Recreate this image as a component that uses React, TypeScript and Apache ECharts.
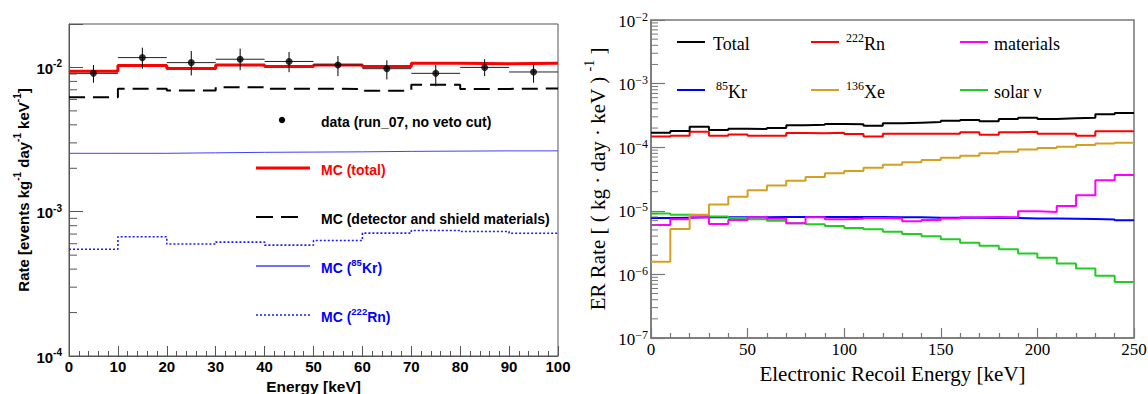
import React, { useEffect, useRef } from 'react';
import * as echarts from 'echarts';

// ---------- Left panel data (0-100 keV, 10 keV bins) ----------
const LEFT_EDGES = [0, 10, 20, 30, 40, 50, 60, 70, 80, 90, 100];
const LEFT_CENTERS = [5, 15, 25, 35, 45, 55, 65, 75, 85, 95];
const LEFT_X_TICKS = [0, 10, 20, 30, 40, 50, 60, 70, 80, 90, 100];
const dataRate = [9.1e-3, 1.17e-2, 1.08e-2, 1.14e-2, 1.1e-2, 1.04e-2, 9.8e-3, 9.1e-3, 1.0e-2, 9.3e-3];
const dataHi = [1.04e-2, 1.37e-2, 1.3e-2, 1.35e-2, 1.28e-2, 1.2e-2, 1.12e-2, 1.04e-2, 1.14e-2, 1.05e-2];
const dataLo = [7.83e-3, 9.8e-3, 8.8e-3, 9.57e-3, 9.27e-3, 8.7e-3, 8.26e-3, 7.4e-3, 8.7e-3, 7.83e-3];
const mcTotal = [9.4e-3, 1.03e-2, 9.84e-3, 1.04e-2, 1.016e-2, 1.04e-2, 1.015e-2, 1.07e-2, 1.06e-2, 1.07e-2];
const mcMaterials = [6.22e-3, 7.11e-3, 6.92e-3, 7.3e-3, 7.11e-3, 7.1e-3, 6.9e-3, 7.6e-3, 7.1e-3, 7.15e-3];
const mcKr = [2.54e-3, 2.54e-3, 2.56e-3, 2.58e-3, 2.59e-3, 2.6e-3, 2.62e-3, 2.63e-3, 2.64e-3, 2.64e-3];
const mcRn = [5.5e-4, 6.7e-4, 5.97e-4, 6.16e-4, 5.87e-4, 6.32e-4, 7.11e-4, 7.41e-4, 7.3e-4, 7.1e-4];

// ---------- Right panel data (0-250 keV, 10 keV bins) ----------
const RIGHT_EDGES = [0, 10, 20, 30, 40, 50, 60, 70, 80, 90, 100, 110, 120, 130, 140, 150, 160, 170, 180, 190, 200, 210, 220, 230, 240, 250];
const erTotal = [1.69e-4, 1.8e-4, 2.1e-4, 1.86e-4, 1.95e-4, 1.93e-4, 2.0e-4, 2.21e-4, 2.25e-4, 2.32e-4, 2.3e-4, 2.18e-4, 2.37e-4, 2.43e-4, 2.49e-4, 2.61e-4, 2.68e-4, 2.55e-4, 2.77e-4, 2.91e-4, 2.77e-4, 2.84e-4, 2.91e-4, 3.29e-4, 3.45e-4];
const erRn = [1.47e-4, 1.52e-4, 1.75e-4, 1.52e-4, 1.59e-4, 1.52e-4, 1.52e-4, 1.67e-4, 1.66e-4, 1.69e-4, 1.61e-4, 1.47e-4, 1.63e-4, 1.63e-4, 1.63e-4, 1.63e-4, 1.72e-4, 1.57e-4, 1.72e-4, 1.75e-4, 1.63e-4, 1.63e-4, 1.52e-4, 1.78e-4, 1.78e-4];
const erXe = [1.58e-6, 5.18e-6, 8.7e-6, 1.26e-5, 1.67e-5, 2.1e-5, 2.51e-5, 2.98e-5, 3.4e-5, 3.88e-5, 4.22e-5, 4.77e-5, 5.31e-5, 5.78e-5, 6.29e-5, 6.84e-5, 7.36e-5, 8.0e-5, 8.5e-5, 9.16e-5, 9.71e-5, 1.02e-4, 1.08e-4, 1.14e-4, 1.18e-4];
const erMaterials = [5.98e-6, 7.35e-6, 7.9e-6, 6.2e-6, 7.16e-6, 7.9e-6, 7.5e-6, 6.35e-6, 7.9e-6, 7.35e-6, 7.5e-6, 7.7e-6, 7.6e-6, 6.82e-6, 7.16e-6, 7.6e-6, 7.9e-6, 8.0e-6, 7.9e-6, 9.8e-6, 9.57e-6, 1.19e-5, 1.75e-5, 3.01e-5, 3.66e-5];
const erKr = [7.7e-6, 7.8e-6, 7.9e-6, 7.9e-6, 7.9e-6, 7.9e-6, 8.0e-6, 8.0e-6, 8.0e-6, 8.0e-6, 8.0e-6, 8.0e-6, 7.9e-6, 7.9e-6, 7.8e-6, 7.8e-6, 7.8e-6, 7.7e-6, 7.7e-6, 7.6e-6, 7.6e-6, 7.5e-6, 7.4e-6, 7.3e-6, 7.1e-6];
const erSolar = [9.1e-6, 8.7e-6, 8.5e-6, 8.1e-6, 7.7e-6, 7.35e-6, 7.0e-6, 6.35e-6, 6.12e-6, 5.77e-6, 5.37e-6, 5.12e-6, 4.7e-6, 4.32e-6, 3.98e-6, 3.56e-6, 3.15e-6, 2.83e-6, 2.48e-6, 2.14e-6, 1.83e-6, 1.49e-6, 1.24e-6, 9.55e-7, 7.58e-7];

// minor log ticks (mantissas 2..9 of each decade)
const MANTISSAS = [2, 3, 4, 5, 6, 7, 8, 9];
const LEFT_DECADES = [1e-4, 1e-3];
const RIGHT_DECADES = [1e-7, 1e-6, 1e-5, 1e-4, 1e-3];

const SANS = '"Liberation Sans", Arial, Helvetica, sans-serif';
const SERIF = '"Liberation Serif", "Times New Roman", serif';

const LEFT_AX = '#555555';
const RIGHT_AX = '#777777';

function histData(edges: number[], vals: number[]) {
  return edges.map((e, i) => [e, vals[Math.min(i, vals.length - 1)]]);
}

function stepLine(name: string, gi: number, edges: number[], vals: number[], lineStyle: any, z = 3) {
  return {
    type: 'line',
    name,
    xAxisIndex: gi,
    yAxisIndex: gi,
    data: histData(edges, vals),
    step: 'end',
    symbol: 'none',
    silent: true,
    lineStyle,
    z,
  };
}

function minorTicks(gi: number, decades: number[], len: number, color: string) {
  const vals: number[][] = [];
  decades.forEach((d) => MANTISSAS.forEach((m) => vals.push([0, m * d])));
  return {
    type: 'custom',
    xAxisIndex: gi,
    yAxisIndex: gi,
    silent: true,
    clip: false,
    z: 10,
    encode: { x: 0, y: 1 },
    data: vals,
    renderItem: (_p: any, api: any) => {
      const c = api.coord([api.value(0), api.value(1)]);
      return {
        type: 'line',
        shape: { x1: c[0], y1: c[1], x2: c[0] + len, y2: c[1] },
        style: { stroke: color, lineWidth: 1 },
      };
    },
  };
}

function powLabel(v: number, minus: string) {
  const e = Math.log10(v);
  const r = Math.round(e);
  if (Math.abs(e - r) > 1e-6) return '';
  return '{b|10}{s|' + (r < 0 ? minus : '') + Math.abs(r) + '}';
}

export default function App() {
  const ref = useRef<HTMLDivElement>(null);

  useEffect(() => {
    if (!ref.current) return;
    const chart = echarts.init(ref.current, undefined, { renderer: 'svg' });
    const halfBin = (LEFT_EDGES[1] - LEFT_EDGES[0]) / 2;

    const leftRich = {
      b: { fontFamily: SANS, fontWeight: 'bold', fontSize: 15, color: '#000', lineHeight: 17, verticalAlign: 'bottom' },
      s: { fontFamily: SANS, fontWeight: 'bold', fontSize: 10, color: '#000', lineHeight: 10, verticalAlign: 'top' },
    };
    const rightRich = {
      b: { fontFamily: SERIF, fontSize: 17, color: '#000', lineHeight: 19, verticalAlign: 'bottom' },
      s: { fontFamily: SERIF, fontSize: 12, color: '#000', lineHeight: 12, verticalAlign: 'top' },
    };

    const legendRowsL = [120, 168, 217, 266, 315];
    const lgL = (t: string, y: number, color: string) => ({
      type: 'text',
      silent: true,
      style: {
        x: 321,
        y,
        text: t,
        verticalAlign: 'middle',
        rich: {
          b: { fontFamily: SANS, fontWeight: 'bold', fontSize: 14, fill: color, lineHeight: 17, verticalAlign: 'bottom' },
          s: { fontFamily: SANS, fontWeight: 'bold', fontSize: 9.5, fill: color, lineHeight: 10, verticalAlign: 'top' },
        },
      },
    });
    const lgR = (t: string, x: number, y: number) => ({
      type: 'text',
      silent: true,
      style: {
        x,
        y,
        text: t,
        verticalAlign: 'middle',
        rich: {
          b: { fontFamily: SERIF, fontSize: 18, fill: '#000', lineHeight: 21, verticalAlign: 'bottom' },
          s: { fontFamily: SERIF, fontSize: 12, fill: '#000', lineHeight: 12, verticalAlign: 'top' },
        },
      },
    });
    const lgLine = (x1: number, x2: number, y: number, stroke: string, lineWidth: number, lineDash?: number[]) => ({
      type: 'line',
      silent: true,
      shape: { x1, y1: y, x2, y2: y },
      style: { stroke, lineWidth, lineDash },
    });

    const option: any = {
      animation: false,
      backgroundColor: '#ffffff',
      grid: [
        { left: 69, top: 24, width: 489, height: 332, show: true, borderColor: LEFT_AX, borderWidth: 1, backgroundColor: 'transparent', containLabel: false, outerBoundsMode: 'none' },
        { left: 651, top: 20, width: 483, height: 318, show: true, borderColor: RIGHT_AX, borderWidth: 1.5, backgroundColor: 'transparent', containLabel: false, outerBoundsMode: 'none' },
      ],
      xAxis: [
        {
          gridIndex: 0,
          type: 'value',
          min: LEFT_X_TICKS[0],
          max: LEFT_X_TICKS[LEFT_X_TICKS.length - 1],
          interval: 10,
          axisLine: { show: true, lineStyle: { color: LEFT_AX, width: 1 } },
          axisTick: { show: true, inside: true, length: 10, lineStyle: { color: LEFT_AX } },
          minorTick: { show: true, splitNumber: 5, length: 5, lineStyle: { color: LEFT_AX } },
          splitLine: { show: false },
          axisLabel: { fontFamily: SANS, fontWeight: 'bold', fontSize: 15, color: '#000', margin: 3 },
          name: 'Energy [keV]',
          nameLocation: 'middle',
          nameGap: 20,
          nameTextStyle: { fontFamily: SANS, fontWeight: 'bold', fontSize: 15.5, color: '#000', lineHeight: 16 },
        },
        {
          gridIndex: 1,
          type: 'value',
          min: 0,
          max: 250,
          interval: 50,
          axisLine: { show: true, lineStyle: { color: RIGHT_AX, width: 1.5 } },
          axisTick: { show: true, inside: true, length: 10, lineStyle: { color: RIGHT_AX, width: 1.2 } },
          minorTick: { show: true, splitNumber: 5, length: 5, lineStyle: { color: RIGHT_AX, width: 1.2 } },
          splitLine: { show: false },
          axisLabel: { fontFamily: SERIF, fontSize: 17, color: '#000', margin: 3 },
          name: 'Electronic Recoil Energy [keV]',
          nameLocation: 'middle',
          nameGap: 25,
          nameTextStyle: { fontFamily: SERIF, fontSize: 21, color: '#000', lineHeight: 21 },
        },
      ],
      yAxis: [
        {
          gridIndex: 0,
          type: 'log',
          logBase: 10,
          min: 1e-4,
          max: 0.02,
          axisLine: { show: true, lineStyle: { color: LEFT_AX, width: 1 } },
          axisTick: { show: true, inside: true, length: 14, lineStyle: { color: LEFT_AX } },
          splitLine: { show: false },
          axisLabel: { margin: 7, formatter: (v: number) => powLabel(v, '-'), rich: leftRich },
          name: '{b|Rate [events kg}{s|-1}{b| day}{s|-1}{b| keV}{s|-1}{b|]}',
          nameLocation: 'middle',
          nameGap: 38,
          nameTextStyle: {
            rich: {
              b: { fontFamily: SANS, fontWeight: 'bold', fontSize: 15, color: '#000', lineHeight: 19, verticalAlign: 'bottom' },
              s: { fontFamily: SANS, fontWeight: 'bold', fontSize: 10, color: '#000', lineHeight: 10, verticalAlign: 'top' },
            },
          },
        },
        {
          gridIndex: 1,
          type: 'log',
          logBase: 10,
          min: 1e-7,
          max: 1e-2,
          axisLine: { show: true, lineStyle: { color: RIGHT_AX, width: 1.5 } },
          axisTick: { show: true, inside: true, length: 14, lineStyle: { color: RIGHT_AX, width: 1.2 } },
          splitLine: { show: false },
          axisLabel: { margin: 3, formatter: (v: number) => powLabel(v, '−'), rich: rightRich },
          name: '{b|ER Rate [ ( kg · day · keV ) }{s|-1}{b| ]}',
          nameLocation: 'middle',
          nameGap: 43,
          nameTextStyle: {
            rich: {
              b: { fontFamily: SERIF, fontSize: 21, color: '#000', lineHeight: 26, verticalAlign: 'bottom' },
              s: { fontFamily: SERIF, fontSize: 14, color: '#000', lineHeight: 14, verticalAlign: 'top' },
            },
          },
        },
      ],
      series: [
        // left panel
        stepLine('MC (222Rn)', 0, LEFT_EDGES, mcRn, { color: '#1a1aff', width: 1.6, type: [2, 2] }),
        stepLine('MC (85Kr)', 0, LEFT_EDGES, mcKr, { color: '#4040ff', width: 1 }),
        stepLine('MC (detector and shield materials)', 0, LEFT_EDGES, mcMaterials, { color: '#000', width: 2, type: [16, 8] }),
        stepLine('MC (total)', 0, LEFT_EDGES, mcTotal, { color: '#ff0000', width: 3 }),
        {
          type: 'custom',
          name: 'data errors',
          xAxisIndex: 0,
          yAxisIndex: 0,
          silent: true,
          z: 5,
          encode: { x: 0, y: 1 },
          data: LEFT_CENTERS.map((c, i) => [c, dataRate[i], dataLo[i], dataHi[i]]),
          renderItem: (_p: any, api: any) => {
            const x = api.value(0);
            const y = api.value(1);
            const pL = api.coord([x - halfBin, y]);
            const pR = api.coord([x + halfBin, y]);
            const pLo = api.coord([x, api.value(2)]);
            const pHi = api.coord([x, api.value(3)]);
            return {
              type: 'group',
              children: [
                { type: 'line', shape: { x1: pL[0], y1: pL[1], x2: pR[0], y2: pR[1] }, style: { stroke: '#222', lineWidth: 1 } },
                { type: 'line', shape: { x1: pLo[0], y1: pLo[1], x2: pHi[0], y2: pHi[1] }, style: { stroke: '#000', lineWidth: 1 } },
              ],
            };
          },
        },
        {
          type: 'scatter',
          name: 'data (run_07, no veto cut)',
          xAxisIndex: 0,
          yAxisIndex: 0,
          silent: true,
          z: 6,
          symbolSize: 7,
          itemStyle: { color: '#000' },
          data: LEFT_CENTERS.map((c, i) => [c, dataRate[i]]),
        },
        minorTicks(0, LEFT_DECADES, 8, LEFT_AX),
        // right panel
        stepLine('85Kr', 1, RIGHT_EDGES, erKr, { color: '#0000ff', width: 2 }),
        stepLine('solar ν', 1, RIGHT_EDGES, erSolar, { color: '#22cc22', width: 2 }),
        stepLine('materials', 1, RIGHT_EDGES, erMaterials, { color: '#ff00ff', width: 2 }),
        stepLine('136Xe', 1, RIGHT_EDGES, erXe, { color: '#d4a020', width: 2 }),
        stepLine('222Rn', 1, RIGHT_EDGES, erRn, { color: '#ff0000', width: 2 }),
        stepLine('Total', 1, RIGHT_EDGES, erTotal, { color: '#000000', width: 2 }),
        minorTicks(1, RIGHT_DECADES, 7, RIGHT_AX),
      ],
      graphic: [
        // left legend
        { type: 'circle', silent: true, shape: { cx: 282, cy: legendRowsL[0], r: 3.2 }, style: { fill: '#000' } },
        lgL('{b|data (run_07, no veto cut)}', legendRowsL[0], '#000'),
        lgLine(256, 310, legendRowsL[1], '#ff0000', 3),
        lgL('{b|MC (total)}', legendRowsL[1], '#ff0000'),
        lgLine(256, 306, legendRowsL[2], '#000', 2, [17, 8]),
        lgL('{b|MC (detector and shield materials)}', legendRowsL[2], '#000'),
        lgLine(256, 310, legendRowsL[3], '#4040ff', 1.5),
        lgL('{b|MC (}{s|85}{b|Kr)}', legendRowsL[3], '#0000ff'),
        lgLine(256, 310, legendRowsL[4], '#1a1aff', 1.6, [2, 2]),
        lgL('{b|MC (}{s|222}{b|Rn)}', legendRowsL[4], '#0000ff'),
        // right legend
        lgLine(677, 705, 42, '#000', 2),
        lgR('{b|Total}', 713, 42),
        lgLine(811, 839, 42, '#ff0000', 2),
        lgR('{s|222}{b|Rn}', 846, 42),
        lgLine(960, 988, 42, '#ff00ff', 2),
        lgR('{b|materials}', 994, 42),
        lgLine(677, 705, 90, '#0000ff', 2),
        lgR('{s|85}{b|Kr}', 716, 90),
        lgLine(811, 839, 90, '#d4a020', 2),
        lgR('{s|136}{b|Xe}', 846, 90),
        lgLine(960, 988, 90, '#22cc22', 2),
        lgR('{b|solar ν}', 994, 90),
      ],
    };

    chart.setOption(option);
    return () => chart.dispose();
  }, []);

  return <div ref={ref} style={{ position: 'absolute', left: 0, top: 0, width: 1148, height: 394 }} />;
}
